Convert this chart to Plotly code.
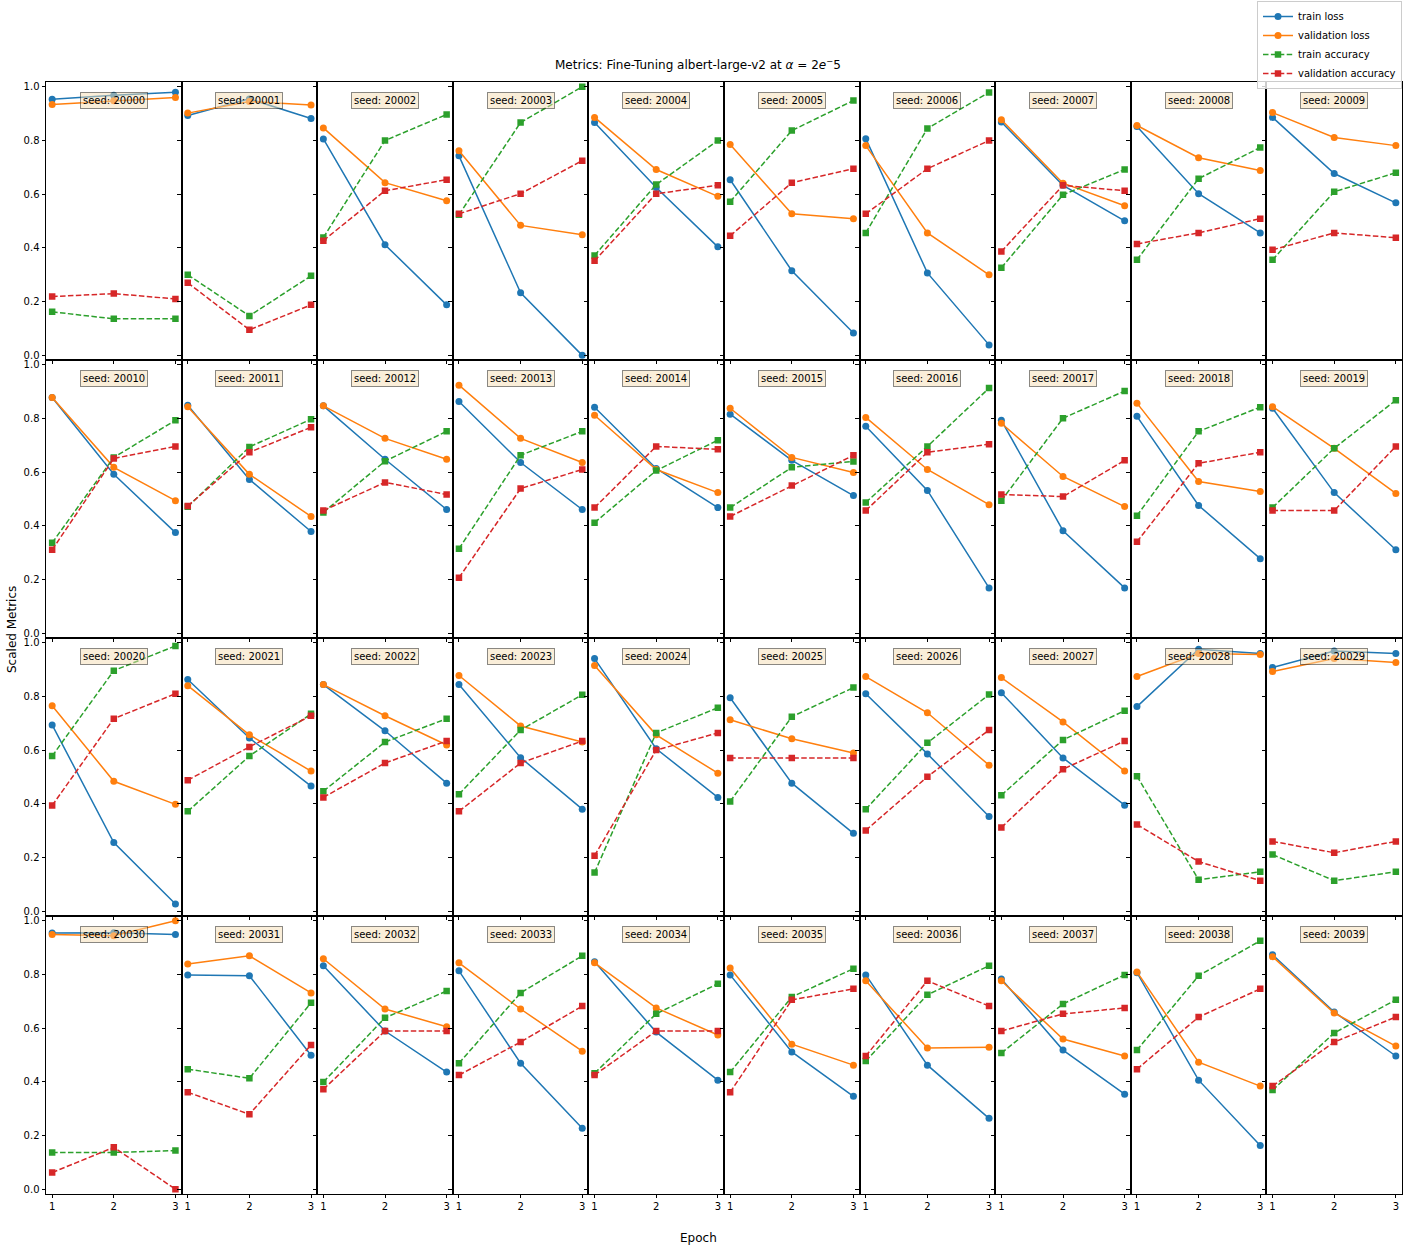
import plotly.graph_objects as go

epochs = [1, 2, 3]
seeds = list(range(20000, 20040))

train_loss = [
    [0.954, 0.969, 0.980], [0.893, 0.955, 0.882], [0.806, 0.412, 0.188], [0.743, 0.233, 0.0], [0.867, 0.625, 0.404],
    [0.654, 0.315, 0.083], [0.807, 0.307, 0.039], [0.869, 0.633, 0.501], [0.852, 0.602, 0.456], [0.886, 0.677, 0.568],
    [0.878, 0.592, 0.375], [0.849, 0.573, 0.379], [0.847, 0.648, 0.461], [0.863, 0.636, 0.461], [0.842, 0.614, 0.468],
    [0.816, 0.644, 0.513], [0.771, 0.532, 0.169], [0.793, 0.382, 0.169], [0.808, 0.476, 0.278], [0.838, 0.524, 0.311],
    [0.694, 0.256, 0.027], [0.863, 0.645, 0.466], [0.844, 0.672, 0.477], [0.844, 0.572, 0.380], [0.941, 0.605, 0.424],
    [0.795, 0.477, 0.290], [0.810, 0.586, 0.353], [0.814, 0.571, 0.395], [0.762, 0.976, 0.960], [0.908, 0.969, 0.960],
    [0.954, 0.955, 0.948], [0.798, 0.795, 0.499], [0.832, 0.589, 0.436], [0.813, 0.469, 0.227], [0.847, 0.585, 0.406],
    [0.798, 0.511, 0.346], [0.798, 0.462, 0.264], [0.783, 0.518, 0.354], [0.806, 0.406, 0.163], [0.873, 0.660, 0.496],
]
val_loss = [
    [0.934, 0.948, 0.960], [0.902, 0.945, 0.932], [0.847, 0.643, 0.576], [0.762, 0.484, 0.449], [0.886, 0.692, 0.592],
    [0.785, 0.527, 0.509], [0.781, 0.456, 0.300], [0.877, 0.641, 0.557], [0.856, 0.736, 0.688], [0.904, 0.811, 0.781],
    [0.878, 0.618, 0.494], [0.844, 0.592, 0.435], [0.847, 0.726, 0.648], [0.924, 0.726, 0.636], [0.812, 0.610, 0.524],
    [0.838, 0.655, 0.599], [0.804, 0.610, 0.479], [0.782, 0.584, 0.472], [0.857, 0.565, 0.528], [0.844, 0.689, 0.521],
    [0.765, 0.484, 0.398], [0.840, 0.657, 0.522], [0.844, 0.728, 0.619], [0.878, 0.690, 0.630], [0.915, 0.657, 0.514],
    [0.713, 0.642, 0.589], [0.874, 0.739, 0.544], [0.870, 0.705, 0.522], [0.874, 0.960, 0.956], [0.893, 0.941, 0.926],
    [0.948, 0.944, 1.0], [0.839, 0.869, 0.731], [0.858, 0.671, 0.605], [0.843, 0.671, 0.514], [0.843, 0.675, 0.574],
    [0.824, 0.540, 0.462], [0.776, 0.526, 0.529], [0.776, 0.559, 0.496], [0.809, 0.473, 0.384], [0.866, 0.656, 0.533],
]
train_acc = [
    [0.162, 0.136, 0.136], [0.300, 0.147, 0.296], [0.439, 0.800, 0.897], [0.524, 0.867, 1.0], [0.372, 0.636, 0.800],
    [0.572, 0.837, 0.949], [0.456, 0.845, 0.979], [0.326, 0.598, 0.692], [0.356, 0.658, 0.774], [0.356, 0.609, 0.680],
    [0.337, 0.655, 0.793], [0.471, 0.694, 0.797], [0.450, 0.641, 0.752], [0.315, 0.663, 0.752], [0.412, 0.606, 0.719],
    [0.468, 0.618, 0.640], [0.487, 0.696, 0.913], [0.494, 0.801, 0.902], [0.438, 0.752, 0.842], [0.468, 0.689, 0.868],
    [0.578, 0.896, 0.988], [0.372, 0.578, 0.735], [0.447, 0.630, 0.717], [0.436, 0.675, 0.806], [0.144, 0.664, 0.758],
    [0.409, 0.724, 0.833], [0.380, 0.627, 0.807], [0.432, 0.638, 0.747], [0.503, 0.117, 0.147], [0.211, 0.114, 0.147],
    [0.137, 0.137, 0.144], [0.447, 0.413, 0.694], [0.399, 0.638, 0.738], [0.469, 0.731, 0.869], [0.432, 0.653, 0.765],
    [0.436, 0.716, 0.821], [0.477, 0.724, 0.832], [0.507, 0.690, 0.798], [0.518, 0.795, 0.925], [0.369, 0.582, 0.705],
]
val_acc = [
    [0.219, 0.230, 0.210], [0.270, 0.095, 0.188], [0.427, 0.613, 0.654], [0.527, 0.602, 0.725], [0.352, 0.602, 0.633],
    [0.445, 0.643, 0.695], [0.527, 0.695, 0.800], [0.387, 0.633, 0.613], [0.415, 0.456, 0.509], [0.393, 0.456, 0.438],
    [0.311, 0.651, 0.696], [0.474, 0.674, 0.767], [0.457, 0.562, 0.517], [0.207, 0.539, 0.610], [0.468, 0.696, 0.685],
    [0.435, 0.550, 0.663], [0.457, 0.674, 0.704], [0.517, 0.509, 0.644], [0.341, 0.633, 0.674], [0.457, 0.457, 0.696],
    [0.394, 0.717, 0.810], [0.488, 0.612, 0.728], [0.424, 0.552, 0.634], [0.372, 0.552, 0.634], [0.207, 0.600, 0.664],
    [0.571, 0.571, 0.571], [0.301, 0.501, 0.675], [0.312, 0.529, 0.634], [0.323, 0.185, 0.114], [0.260, 0.218, 0.260],
    [0.062, 0.156, 0.0], [0.361, 0.279, 0.537], [0.372, 0.589, 0.589], [0.425, 0.548, 0.682], [0.425, 0.589, 0.589],
    [0.361, 0.705, 0.746], [0.496, 0.776, 0.682], [0.589, 0.653, 0.675], [0.447, 0.641, 0.746], [0.384, 0.548, 0.641],
]
y_ticks = [0.0, 0.2, 0.4, 0.6, 0.8, 1.0]
y_tick_labels = ["0.0", "0.2", "0.4", "0.6", "0.8", "1.0"]

W, H = 1409, 1251
NROWS, NCOLS = 4, 10
left_px, right_px = 46.0, 1402.0
top_px, bottom_px = 81.7, 1193.5
cw = (right_px - left_px) / NCOLS
rh = (bottom_px - top_px) / NROWS

series = [
    ("train loss", train_loss, "#1f77b4", "solid", "circle"),
    ("validation loss", val_loss, "#ff7f0e", "solid", "circle"),
    ("train accuracy", train_acc, "#2ca02c", "5.5px,2.4px", "square"),
    ("validation accuracy", val_acc, "#d62728", "5.5px,2.4px", "square"),
]

FONT = "DejaVu Sans"
fig = go.Figure()
layout_axes = {}
annotations = []

for i, seed in enumerate(seeds):
    r, c = divmod(i, NCOLS)
    k = i + 1
    xa = "x" if k == 1 else f"x{k}"
    ya = "y" if k == 1 else f"y{k}"
    for name, data, color, dash, sym in series:
        fig.add_trace(go.Scatter(
            x=epochs, y=data[i], mode="lines+markers", name=name,
            line=dict(color=color, width=1.5, dash=dash),
            marker=dict(color=color, size=7 if sym == "circle" else 6.5, symbol=sym),
            xaxis=xa, yaxis=ya, legendgroup=name, showlegend=(i == 0),
        ))
    x0 = (left_px + c * cw) / W
    x1 = (left_px + (c + 1) * cw) / W
    ytop = top_px + r * rh
    y1 = 1 - ytop / H
    y0 = 1 - (ytop + rh) / H
    xkey = "xaxis" if k == 1 else f"xaxis{k}"
    ykey = "yaxis" if k == 1 else f"yaxis{k}"
    layout_axes[xkey] = dict(
        domain=[x0, x1], anchor=ya, range=[0.9, 3.1],
        tickvals=epochs, ticktext=[str(e) for e in epochs],
        showticklabels=(r == NROWS - 1),
        ticks="outside", ticklen=3.5, tickwidth=0.8, tickcolor="black",
        showline=True, mirror=True, linecolor="black", linewidth=1,
        showgrid=False, zeroline=False,
        tickfont=dict(family=FONT, size=10, color="black"),
    )
    layout_axes[ykey] = dict(
        domain=[y0, y1], anchor=xa, range=[-0.016, 1.019],
        tickvals=y_ticks, ticktext=y_tick_labels,
        showticklabels=(c == 0),
        ticks="outside", ticklen=3.5, tickwidth=0.8, tickcolor="black",
        showline=True, mirror=True, linecolor="black", linewidth=1,
        showgrid=False, zeroline=False,
        tickfont=dict(family=FONT, size=10, color="black"),
    )
    annotations.append(dict(
        text=f"seed: {seed}", xref="paper", yref="paper",
        x=(x0 + x1) / 2, y=1 - (ytop + 19) / H, xanchor="center", yanchor="middle",
        showarrow=False, font=dict(family=FONT, size=10, color="black"),
        bgcolor="rgba(245,222,179,0.5)", bordercolor="rgba(0,0,0,0.45)",
        borderwidth=1, borderpad=2,
    ))

annotations.append(dict(
    text="Metrics: Fine-Tuning albert-large-v2 at <i>α</i> = 2<i>e</i><sup>−</sup>5",
    xref="paper", yref="paper", x=698 / W, y=1 - 64 / H, xanchor="center", yanchor="middle",
    showarrow=False, font=dict(family=FONT, size=12, color="black"),
))
annotations.append(dict(
    text="Epoch", xref="paper", yref="paper", x=698 / W, y=1 - 1238 / H,
    xanchor="center", yanchor="middle", showarrow=False,
    font=dict(family=FONT, size=12, color="black"),
))
annotations.append(dict(
    text="Scaled Metrics", xref="paper", yref="paper", x=12 / W, y=1 - 630 / H,
    xanchor="center", yanchor="middle", showarrow=False, textangle=-90,
    font=dict(family=FONT, size=12, color="black"),
))

fig.update_layout(
    width=W, height=H, margin=dict(l=0, r=0, t=0, b=0),
    paper_bgcolor="white", plot_bgcolor="white",
    annotations=annotations,
    legend=dict(
        x=1402 / W, y=1 - 1 / H, xanchor="right", yanchor="top",
        bgcolor="rgba(255,255,255,0.8)", bordercolor="#cccccc", borderwidth=1,
        font=dict(family=FONT, size=10, color="black"),
        tracegroupgap=0, itemwidth=30,
    ),
    **layout_axes,
)

fig.write_html("out.html")
